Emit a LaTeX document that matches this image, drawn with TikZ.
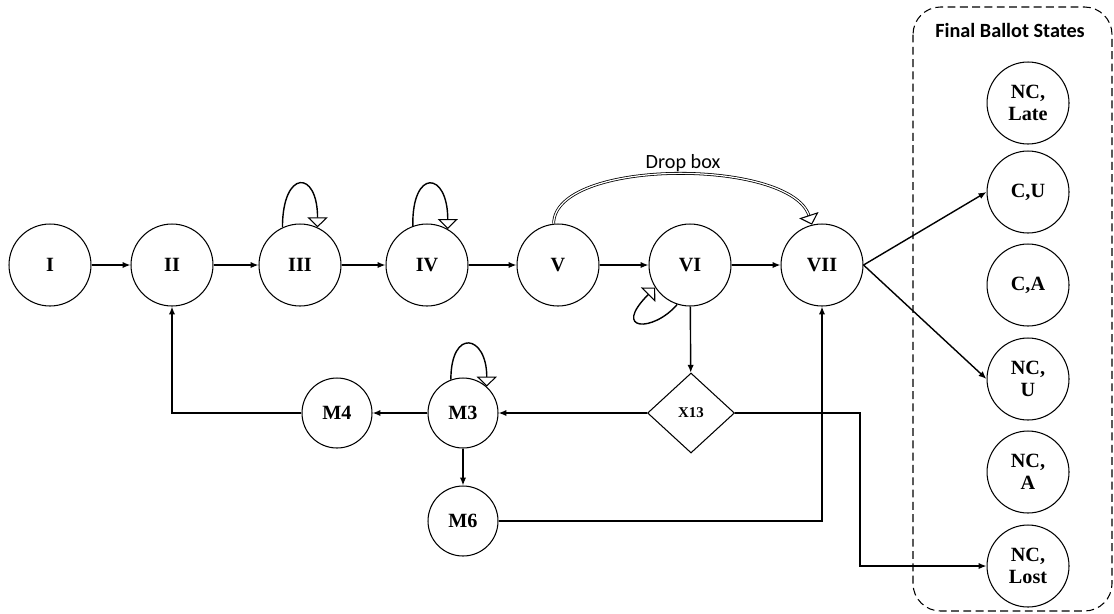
\documentclass[tikz,border=0pt]{standalone}
\usepackage{fontspec}
\setmainfont{Liberation Serif}
\newfontfamily\calfont{Carlito}
\usetikzlibrary{arrows.meta,shapes.geometric}
\begin{document}
\begin{tikzpicture}[x=0.02cm,y=-0.02cm,
  state/.style={circle,draw,line width=0.6pt,minimum size=1.64cm,inner sep=0pt,font=\fontsize{11.5}{12.5}\selectfont\bfseries,align=center},
  mstate/.style={state,minimum size=1.4cm},
  decision/.style={diamond,draw,line width=0.6pt,minimum width=1.74cm,minimum height=1.6cm,inner sep=0pt,font=\fontsize{8.5}{10}\selectfont\bfseries},
  conn/.style={line width=0.8pt,-{Latex[length=4.5pt,width=3.6pt]}},
  loopc/.style={line width=0.8pt,-{Triangle[open,length=5.7pt,width=11.5pt,line width=0.6pt]}},
  group/.style={draw,dashed,dash pattern=on 4.5pt off 2.5pt,line width=0.6pt,rounded corners=0.55cm}
]
\useasboundingbox (0,0) rectangle (1114,613);
% group box
\draw[group] (913,7) rectangle (1112,611);
\node[font=\calfont\fontsize{11.5}{13}\selectfont\bfseries] (fbs) at (1010,30) {Final Ballot States};
% main states
\node[state] (I) at (50,265) {I};
\node[state] (II) at (172,265) {II};
\node[state] (III) at (300,265) {III};
\node[state] (IV) at (427,265) {IV};
\node[state] (V) at (558,265) {V};
\node[state] (VI) at (690,265) {VI};
\node[state] (VII) at (822,265) {VII};
% lower
\node[mstate] (M4) at (337,413) {M4};
\node[mstate] (M3) at (463,413) {M3};
\node[mstate] (M6) at (463,521) {M6};
\node[decision] (X13) at (691,413) {X13};
% final states
\node[state] (NCLate) at (1028,103) {NC,\\Late};
\node[state] (CU) at (1028,192) {C,U};
\node[state] (CA) at (1028,285) {C,A};
\node[state] (NCU) at (1028,379) {NC,\\U};
\node[state] (NCA) at (1028,472) {NC,\\A};
\node[state] (NCLost) at (1028,566) {NC,\\Lost};
% main chain
\draw[conn] (I) -- (II);
\draw[conn] (II) -- (III);
\draw[conn] (III) -- (IV);
\draw[conn] (IV) -- (V);
\draw[conn] (V) -- (VI);
\draw[conn] (VI) -- (VII);
% self loops
\draw[loopc] (III.{180-65}) .. controls +(0,-58) and +(0,-58) .. (III.{65});
\draw[loopc] (IV.{180-70}) .. controls +(-1,-58) and +(0,-58) .. (IV.{60});
\draw[loopc] (M3.{180-70}) .. controls +(0,-52) and +(0,-52) .. (M3.{48});
\draw[loopc] (VI.{-108}) .. controls +(-24,28) and +(-44,44) .. (VI.{213});
% drop box
\draw[line width=0.45pt,double,double distance=0.7pt,-{Triangle[open,length=5.7pt,width=11.5pt,line width=0.6pt]}]
  (V.{96}) .. controls (554,158) and (790,158) .. (VII.{104});
\node[font=\calfont\fontsize{11.5}{13}\selectfont] (dropbox) at (683,163) {Drop box};
% lower connections
\draw[conn] (VI) -- (X13);
\draw[conn] (X13) -- (M3);
\draw[conn] (M3) -- (M4);
\draw[conn] (M3) -- (M6);
\draw[conn] (M4.west) -| (II.south);
\draw[conn] (M6.east) -| (VII.south);
\coordinate (turn) at (860,413);
\draw[conn] (X13.east) -- (turn) |- (NCLost.west);
% to final states
\draw[conn] (VII.east) -- (CU.west);
\draw[conn] (VII.east) -- (NCU.west);
\end{tikzpicture}
\end{document}
